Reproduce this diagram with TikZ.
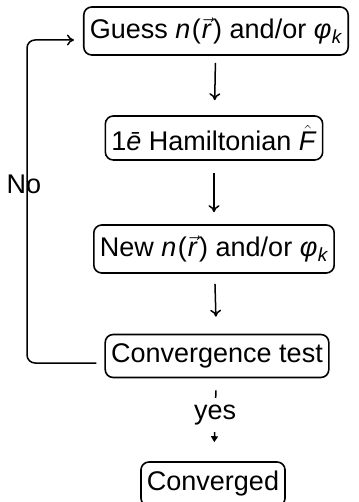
\documentclass[tikz,border=0pt]{standalone}
\usepackage{fontspec}
\setmainfont{Liberation Sans}
\usetikzlibrary{arrows.meta, positioning}

\newcommand{\nvec}{\textit{n}\kern1.5pt(\kern1pt$\vec{\mbox{\textit{r}}}$\kern1.5pt)}
\newcommand{\phik}{\textit{φ}\kern0.5pt\raisebox{-5pt}{\fontsize{19}{19}\selectfont\textit{k}}}

\begin{document}
\begin{tikzpicture}[
        x=1pt, y=-1pt,
        font=\fontsize{27}{31}\selectfont,
        stepbox/.style={draw, rounded corners=8pt, line width=1.6pt, inner xsep=6pt, inner ysep=5pt, minimum height=#1},
        stepbox/.default=44pt,
        flow/.style={-{To[length=7pt, width=11pt]}, line width=1.5pt, #1},
        flow/.default=black,
        yesflow/.style={-{Triangle[length=6pt, width=7pt]}, line width=1.5pt},
    ]
    \useasboundingbox (0,0) rectangle (358,502);

    % Iteration steps
    \node[stepbox=48pt] (guess) at (216,31) {Guess \nvec{} and/or \phik};
    \node[stepbox] (ham) at (214,138) {1\textit{ē} Hamiltonian $\hat{\mbox{\textit{F}}}$};
    \node[stepbox=48pt] (new) at (214,249) {New \nvec{} and/or \phik};
    \node[stepbox=43pt] (conv) at (217,356) {Convergence test};
    \node[stepbox] (done) at (213,484) {Converged};

    % Connections
    \draw[flow, shorten <=7pt, shorten >=15pt] (guess) -- (ham);
    \draw[flow, shorten <=12pt, shorten >=12pt] (ham) -- (new);
    \draw[flow, shorten <=10pt, shorten >=17pt] (new) -- (conv);
    \draw[yesflow, shorten <=12pt, shorten >=19pt] (conv) -- node[pos=0.44, fill=white, inner xsep=2pt, inner ysep=7pt] (yes) {yes} (done);

    % Loop back
    \draw[flow, rounded corners=8pt] ([shift={(-8,7)}]conv.west) -| (27,40) -- ([shift={(-9,9)}]guess.west);
    \node (no) at (24,184) {No};
\end{tikzpicture}
\end{document}
